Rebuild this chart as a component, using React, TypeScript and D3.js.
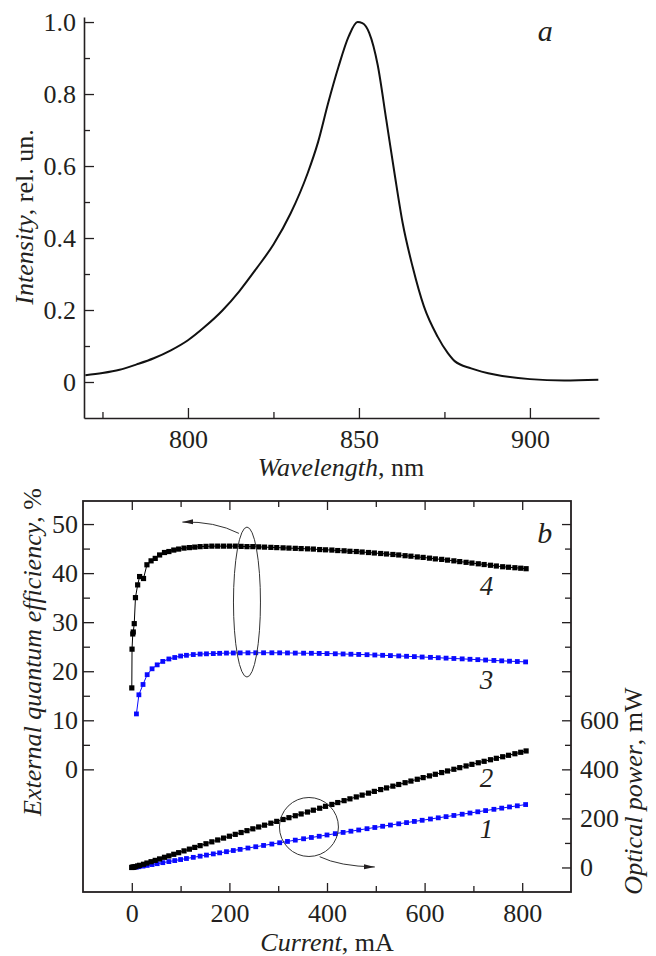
import React, { useRef, useEffect } from "react";
import * as d3 from "d3";

// ---- panel a: emission spectrum ----
const wavelength = [770, 775, 780, 785, 790, 795, 800, 805, 810, 815, 820, 825, 830, 835, 838, 841, 844, 847, 849.6, 851, 853, 855.5, 858, 860.4, 862.8, 865.7, 869, 873, 876, 878, 882.8, 890, 900, 910, 920];
const intensity = [0.019, 0.025, 0.034, 0.049, 0.066, 0.088, 0.116, 0.154, 0.198, 0.252, 0.315, 0.382, 0.468, 0.58, 0.665, 0.775, 0.875, 0.96, 1.0, 0.997, 0.97, 0.88, 0.728, 0.58, 0.441, 0.32, 0.21, 0.126, 0.08, 0.058, 0.038, 0.02, 0.008, 0.004, 0.006];
const wlTicks = [800, 850, 900];
const wlMinor = [775, 825, 875];
const intTicks = [0, 0.2, 0.4, 0.6, 0.8, 1.0];
const intMinor = [0.1, 0.3, 0.5, 0.7, 0.9];

// ---- panel b: curves 2 and 4 (black) ----
const currentBlack = [0, 0.5, 2, 3, 5, 7.5, 12, 16, 24, 31, 39.5, 48, 57, 67, 76, 86, 96, 107, 118, 129, 140, 152, 164, 176, 188, 200, 212, 224, 236, 248, 260, 272, 285, 297, 310, 322, 335, 347, 360, 372, 385, 397, 410, 422, 435, 447, 460, 472, 485, 497, 510, 522, 535, 547, 560, 572, 585, 597, 610, 622, 635, 647, 660, 672, 685, 697, 710, 722, 735, 747, 760, 772, 785, 797, 808];
const eqe4 = [16.6, 24.5, 27.6, 28.0, 29.7, 35.0, 37.6, 39.3, 38.9, 41.7, 42.5, 43.0, 43.7, 44.2, 44.4, 44.7, 44.9, 45.1, 45.2, 45.3, 45.4, 45.45, 45.5, 45.5, 45.5, 45.5, 45.5, 45.45, 45.4, 45.4, 45.35, 45.3, 45.25, 45.2, 45.15, 45.1, 45.05, 45.0, 44.95, 44.9, 44.8, 44.75, 44.7, 44.6, 44.55, 44.45, 44.4, 44.3, 44.2, 44.1, 44.0, 43.9, 43.8, 43.7, 43.55, 43.45, 43.3, 43.2, 43.05, 42.9, 42.8, 42.65, 42.5, 42.35, 42.2, 42.05, 41.9, 41.75, 41.6, 41.45, 41.3, 41.2, 41.1, 41.0, 40.9];
const power2 = [0, 0.17, 0.77, 1.18, 2.08, 3.68, 6.32, 8.8, 13.1, 18.1, 23.5, 28.9, 34.9, 41.5, 47.2, 53.8, 60.3, 67.6, 74.7, 81.8, 89.0, 96.7, 104.5, 112.1, 119.8, 127.4, 135.0, 142.5, 150.0, 157.6, 165.1, 172.5, 180.5, 187.9, 195.6, 203.0, 210.9, 218.2, 226.0, 233.5, 241.5, 249.3, 257.0, 264.6, 272.4, 279.8, 287.6, 295.0, 303.0, 310.2, 317.6, 324.3, 331.6, 338.3, 345.6, 352.3, 359.6, 366.3, 373.4, 379.9, 386.9, 393.4, 400.4, 406.9, 413.9, 420.4, 426.9, 432.8, 439.2, 445.0, 451.4, 457.3, 463.7, 469.6, 475.0];

// ---- panel b: curves 1 and 3 (blue) ----
const currentBlue = [9.5, 14.5, 23, 31.5, 41.5, 52, 63.5, 76, 88, 100, 112, 126, 140, 153, 167, 180, 194, 208, 222, 238, 254, 270, 287, 303, 319, 335, 352, 368, 384, 400, 417, 433, 449, 465, 482, 498, 514, 530, 547, 563, 579, 595, 612, 628, 644, 660, 677, 693, 709, 725, 742, 758, 774, 790, 807];
const eqe3 = [11.3, 15.2, 17.3, 19.3, 20.5, 21.3, 22.0, 22.5, 22.8, 23.1, 23.25, 23.4, 23.5, 23.55, 23.6, 23.65, 23.7, 23.72, 23.74, 23.75, 23.76, 23.76, 23.76, 23.75, 23.73, 23.7, 23.68, 23.66, 23.63, 23.6, 23.56, 23.52, 23.47, 23.42, 23.37, 23.31, 23.25, 23.19, 23.12, 23.05, 22.98, 22.9, 22.83, 22.75, 22.67, 22.6, 22.52, 22.44, 22.36, 22.28, 22.2, 22.12, 22.05, 21.98, 21.9];
const power1 = [1.5, 3.1, 5.6, 8.5, 11.9, 15.5, 19.6, 24.0, 28.1, 32.3, 36.5, 41.3, 46.1, 50.5, 55.3, 59.6, 64.4, 69.1, 73.8, 79.2, 84.5, 89.8, 95.5, 100.8, 106.1, 111.4, 117.0, 122.3, 127.2, 132.5, 137.8, 142.9, 147.9, 152.8, 158.1, 163.0, 168.0, 172.9, 178.0, 182.9, 187.7, 192.4, 197.6, 202.4, 207.2, 212.0, 217.1, 221.9, 227.0, 231.9, 237.1, 241.9, 246.8, 251.4, 256.5];

const curTicks = [0, 200, 400, 600, 800];
const curMinor = [100, 300, 500, 700];
const eqeTicks = [0, 10, 20, 30, 40, 50];
const eqeMinor = [5, 15, 25, 35, 45];
const powLabeled = [0, 200, 400, 600];
const powMajorRest = [800, 1000, 1200, 1400];
const powMinor = [100, 300, 500, 700, 900, 1100, 1300];

const W = 656;
const H = 956;
const FONT = "Liberation Serif, Times New Roman, serif";
const FS = 26;
const INK = "#231f20";
const BLUE = "#0a0aff";

const App = () => {
    const svgRef = useRef<SVGSVGElement>(null);

    useEffect(() => {
        const svg = d3.select(svgRef.current);
        svg.selectAll("*").remove();

        const defs = svg.append("defs");
        defs.append("marker")
            .attr("id", "arrowhead")
            .attr("viewBox", "0 0 10 10")
            .attr("refX", 10)
            .attr("refY", 5)
            .attr("markerWidth", 11)
            .attr("markerHeight", 11)
            .attr("markerUnits", "userSpaceOnUse")
            .attr("orient", "auto")
            .append("path")
            .attr("d", "M0,2.6L10,5L0,7.4Z")
            .attr("fill", INK);

        drawSpectrum(svg);
        drawLI(svg);
    }, []);

    const styleAxis = (g, keepDomain = true) => {
        g.attr("font-family", null).attr("font-size", null);
        if (keepDomain) {
            g.select(".domain").attr("stroke", INK).attr("stroke-width", 1.6);
        } else {
            g.select(".domain").remove();
        }
        g.selectAll(".tick line").attr("stroke", INK).attr("stroke-width", 1.3);
        g.selectAll(".tick text")
            .attr("fill", INK)
            .style("font-family", FONT)
            .style("font-size", `${FS}px`);
    };

    const axisTitle = (svg, x, y, rotate, italic, rest) => {
        const t = svg.append("text")
            .attr("transform", `translate(${x},${y}) rotate(${rotate})`)
            .attr("text-anchor", "middle")
            .style("font-family", FONT)
            .style("font-size", `${FS}px`)
            .attr("fill", INK);
        t.append("tspan").style("font-style", "italic").text(italic);
        t.append("tspan").text(rest);
    };

    const italicLabel = (svg, x, y, txt, size = 27, anchor = "middle") => {
        svg.append("text")
            .attr("x", x)
            .attr("y", y)
            .attr("text-anchor", anchor)
            .style("font-family", FONT)
            .style("font-style", "italic")
            .style("font-size", `${size}px`)
            .attr("fill", INK)
            .text(txt);
    };

    const drawSpectrum = (svg) => {
        const x = d3.scaleLinear().domain([769.6, 920.2]).range([84, 599]);
        const y = d3.scaleLinear().domain([-0.1, 1.014]).range([418, 17]);

        const gx = svg.append("g").attr("transform", `translate(0,${y(-0.1)})`);
        gx.call(d3.axisBottom(x).tickValues(wlTicks).tickSize(-10).tickSizeOuter(0).tickPadding(12).tickFormat(d3.format("d")));
        styleAxis(gx);
        const gxm = svg.append("g").attr("transform", `translate(0,${y(-0.1)})`);
        gxm.call(d3.axisBottom(x).tickValues(wlMinor).tickSize(-6).tickFormat(() => ""));
        styleAxis(gxm, false);

        const gy = svg.append("g").attr("transform", `translate(${x(769.6)},0)`);
        gy.call(d3.axisLeft(y).tickValues(intTicks).tickSize(-10).tickSizeOuter(0).tickPadding(8)
            .tickFormat(d => (d === 0 ? "0" : d3.format(".1f")(d))));
        styleAxis(gy);
        const gym = svg.append("g").attr("transform", `translate(${x(769.6)},0)`);
        gym.call(d3.axisLeft(y).tickValues(intMinor).tickSize(-6).tickFormat(() => ""));
        styleAxis(gym, false);

        const line = d3.line<number>()
            .x((d, i) => x(wavelength[i]))
            .y(d => y(d))
            .curve(d3.curveMonotoneX);

        svg.append("path")
            .datum(intensity)
            .attr("fill", "none")
            .attr("stroke", "#111")
            .attr("stroke-width", 2)
            .attr("d", line);

        axisTitle(svg, 33, 217, -90, "Intensity", ", rel. un.");
        axisTitle(svg, 341, 476, 0, "Wavelength", ", nm");
        italicLabel(svg, x(902.3), y(0.947), "a", 30, "start");
    };

    const drawLI = (svg) => {
        const x = d3.scaleLinear().domain([-100, 900]).range([83, 571]);
        const yL = d3.scaleLinear().domain([-25, 54.7]).range([892, 501]);
        const yR = d3.scaleLinear().domain([-100, 1494]).range([892, 501]);

        // frame
        svg.append("rect")
            .attr("x", x(-100))
            .attr("y", yL(54.7))
            .attr("width", x(900) - x(-100))
            .attr("height", yL(-25) - yL(54.7))
            .attr("fill", "none")
            .attr("stroke", INK)
            .attr("stroke-width", 1.8);

        const bottom = svg.append("g").attr("transform", `translate(0,${yL(-25)})`);
        bottom.call(d3.axisBottom(x).tickValues(curTicks).tickSize(-9).tickPadding(12).tickFormat(d3.format("d")));
        styleAxis(bottom, false);
        const bottomMinor = svg.append("g").attr("transform", `translate(0,${yL(-25)})`);
        bottomMinor.call(d3.axisBottom(x).tickValues(curMinor).tickSize(-6).tickFormat(() => ""));
        styleAxis(bottomMinor, false);

        const top = svg.append("g").attr("transform", `translate(0,${yL(54.7)})`);
        top.call(d3.axisTop(x).tickValues(curTicks).tickSize(-9).tickFormat(() => ""));
        styleAxis(top, false);
        const topMinor = svg.append("g").attr("transform", `translate(0,${yL(54.7)})`);
        topMinor.call(d3.axisTop(x).tickValues(curMinor).tickSize(-6).tickFormat(() => ""));
        styleAxis(topMinor, false);

        const left = svg.append("g").attr("transform", `translate(${x(-100)},0)`);
        left.call(d3.axisLeft(yL).tickValues(eqeTicks).tickSize(-11).tickPadding(5).tickFormat(d3.format("d")));
        styleAxis(left, false);
        const leftMinor = svg.append("g").attr("transform", `translate(${x(-100)},0)`);
        leftMinor.call(d3.axisLeft(yL).tickValues(eqeMinor).tickSize(-7).tickFormat(() => ""));
        styleAxis(leftMinor, false);

        const right = svg.append("g").attr("transform", `translate(${x(900)},0)`);
        right.call(d3.axisRight(yR).tickValues(powLabeled).tickSize(-9).tickPadding(9).tickFormat(d3.format("d")));
        styleAxis(right, false);
        const rightMajor = svg.append("g").attr("transform", `translate(${x(900)},0)`);
        rightMajor.call(d3.axisRight(yR).tickValues(powMajorRest).tickSize(-9).tickFormat(() => ""));
        styleAxis(rightMajor, false);
        const rightMinor = svg.append("g").attr("transform", `translate(${x(900)},0)`);
        rightMinor.call(d3.axisRight(yR).tickValues(powMinor).tickSize(-6).tickFormat(() => ""));
        styleAxis(rightMinor, false);

        const series = [
            { cur: currentBlue, val: power1, scale: yR, color: BLUE, size: 4.8 },
            { cur: currentBlack, val: power2, scale: yR, color: "#000", size: 5.2 },
            { cur: currentBlue, val: eqe3, scale: yL, color: BLUE, size: 4.8 },
            { cur: currentBlack, val: eqe4, scale: yL, color: "#000", size: 5.2 },
        ];

        series.forEach(s => {
            const line = d3.line<number>()
                .x((d, i) => x(s.cur[i]))
                .y(d => s.scale(d));
            svg.append("path")
                .datum(s.val)
                .attr("fill", "none")
                .attr("stroke", s.color)
                .attr("stroke-width", 1)
                .attr("d", line);
            svg.append("g")
                .selectAll("rect")
                .data(s.val)
                .enter()
                .append("rect")
                .attr("x", (d, i) => x(s.cur[i]) - s.size / 2)
                .attr("y", d => s.scale(d) - s.size / 2)
                .attr("width", s.size)
                .attr("height", s.size)
                .attr("fill", s.color);
        });

        // ellipse around the efficiency curves, arrow to the left axis
        svg.append("ellipse")
            .attr("cx", x(236))
            .attr("cy", yL(34.1))
            .attr("rx", 13.5)
            .attr("ry", 75)
            .attr("fill", "none")
            .attr("stroke", "#333")
            .attr("stroke-width", 1);
        svg.append("path")
            .attr("d", `M${x(219.5)},${yL(48.1)} Q${x(170)},${yL(50.6)} ${x(103.6)},${yL(50.4)}`)
            .attr("fill", "none")
            .attr("stroke", "#333")
            .attr("stroke-width", 1)
            .attr("marker-end", "url(#arrowhead)");

        // circle around the power curves, arrow to the right axis
        svg.append("ellipse")
            .attr("cx", x(363))
            .attr("cy", yR(165))
            .attr("rx", 29.5)
            .attr("ry", 29.5)
            .attr("fill", "none")
            .attr("stroke", "#333")
            .attr("stroke-width", 1);
        svg.append("path")
            .attr("d", `M${x(385)},${yR(44)} Q${x(425)},${yR(5)} ${x(498)},${yR(2)}`)
            .attr("fill", "none")
            .attr("stroke", "#333")
            .attr("stroke-width", 1)
            .attr("marker-end", "url(#arrowhead)");

        italicLabel(svg, x(727), yL(35.6), "4");
        italicLabel(svg, x(727), yL(16.3), "3");
        italicLabel(svg, x(727), yR(328), "2");
        italicLabel(svg, x(727), yR(120), "1");
        italicLabel(svg, x(831), yL(46.1), "b", 30, "start");

        axisTitle(svg, 41, 652, -90, "External quantum efficiency", ", %");
        axisTitle(svg, 642, 791, -90, "Optical power", ", mW");
        axisTitle(svg, 327, 951, 0, "Current", ", mA");
    };

    return (
        <div>
            <svg ref={svgRef} width={W} height={H} style={{ position: "absolute", left: 0, top: 0, background: "#fff" }}></svg>
        </div>
    );
};

export default App;
